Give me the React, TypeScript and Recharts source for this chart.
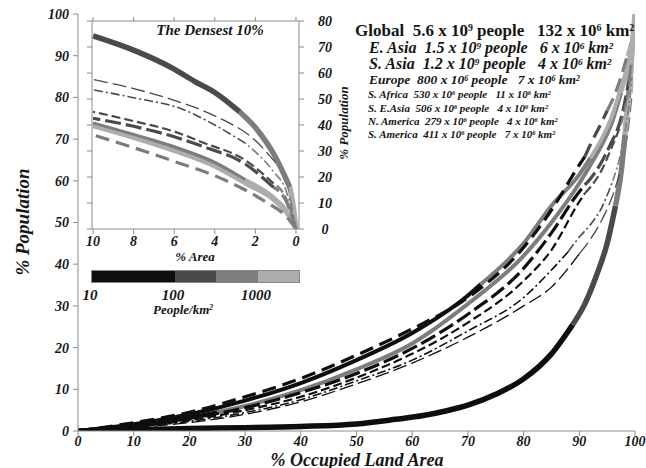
import React from "react";
import { LineChart, Line, XAxis, YAxis } from "recharts";

const FONT = '"Liberation Serif", "Times New Roman", Times, serif';
const INK = "#151515";
const AXIS = "#8c8c8c";

// people/km2 classes used for the gray scale
const densityEdges = [10, 100, 316, 1000, 3162];
const densityTickLabels = [10, 100, 1000];
const densityGrays = ["#0e0e0e", "#4a4a4a", "#7d7d7d", "#adadad"];

const mainTicks = [0, 10, 20, 30, 40, 50, 60, 70, 80, 90, 100];
const insetXTicks = [0, 2, 4, 6, 8, 10];
const insetYTicks = [0, 10, 20, 30, 40, 50, 60, 70, 80];

const regionNames = ["Global", "E. Asia", "S. Asia", "Europe", "S. Africa", "S. E.Asia", "N. America", "S. America"];
const regionPeople: [string, number][] = [["5.6", 9], ["1.5", 9], ["1.2", 9], ["800", 6], ["530", 6], ["506", 6], ["279", 6], ["411", 6]];
const regionArea = [132, 6, 4, 7, 11, 4, 4, 7];

// [% area, % population, density class]
type Pt = [number, number, number];

const mainGlobal: Pt[] = [
  [0, 0, 0], [10, 0.3, 0], [20, 0.6, 0], [30, 0.8, 0], [40, 1.1, 0], [50, 1.7, 0], [57, 2.8, 0], [62, 3.7, 0],
  [66, 4.8, 0], [70, 6.2, 0], [75, 8.8, 0], [80, 12.5, 0], [85, 18.5, 0], [88.8, 25.5, 1], [91, 30.5, 1],
  [93, 37, 1], [95, 45, 1], [96.5, 54, 2], [97.5, 62, 2], [98.2, 71, 3], [98.8, 80, 3], [99.4, 90, 3], [100, 100, 3],
];
const mainNAmerica: Pt[] = [
  [0, 0, 0], [10, 0.8, 0], [20, 2, 0], [30, 4, 0], [40, 7, 0], [50, 11.3, 0], [60, 16.3, 0], [70, 22.5, 0],
  [80, 30, 0], [85, 34.5, 0], [90, 42.5, 1], [92, 46, 1], [94, 50.5, 1], [96, 56.5, 1], [97.5, 63, 2],
  [99, 74.5, 2], [99.5, 81, 3], [100, 100, 3],
];
const mainSAmerica: Pt[] = [
  [0, 0, 0], [10, 0.9, 0], [20, 2.3, 0], [30, 4.4, 0], [40, 7.5, 0], [50, 12, 0], [60, 17, 0], [70, 24, 0],
  [80, 32, 0], [85, 38.6, 0], [88, 43, 1], [90, 46.5, 1], [92, 49.5, 1], [94, 53.5, 1], [96, 60, 2],
  [97.5, 67, 2], [98.9, 78, 2], [99.5, 85, 3], [100, 100, 3],
];
const mainSAfrica: Pt[] = [
  [0, 0, 0], [10, 1, 0], [20, 2.6, 0], [30, 5, 0], [40, 8.2, 0], [50, 12.8, 0], [60, 18.5, 0], [70, 26, 0],
  [80, 36, 0], [85, 43.4, 0], [90, 55, 0], [91, 57, 1], [92, 58.5, 1], [94, 62.5, 1], [95.5, 67, 1],
  [97.5, 73.5, 2], [98.9, 82.5, 2], [99.5, 88, 3], [100, 100, 3],
];
const mainSEAsia: Pt[] = [
  [0, 0, 0], [10, 1.2, 0], [20, 3, 0], [30, 5.6, 0], [40, 9.2, 0], [50, 13.8, 0], [60, 19.8, 0], [70, 28, 0],
  [80, 39, 0], [85, 47.5, 0], [90, 57.4, 0], [91, 59, 1], [92, 60.5, 1], [94, 64.5, 1], [95.5, 68.5, 1],
  [97.5, 75, 1], [98.9, 84, 2], [99.5, 89, 3], [100, 100, 3],
];
const mainSAsia: Pt[] = [
  [0, 0, 0], [10, 1.3, 0], [20, 3.2, 0], [25, 4.5, 2], [30, 6, 2], [40, 9.8, 2], [50, 14.8, 2], [60, 21, 2],
  [70, 30.5, 2], [80, 42, 2], [85, 50, 2], [90, 59.4, 2], [92, 63.8, 2], [94, 68.5, 2], [96, 74.5, 2],
  [97.5, 81.2, 3], [99, 88.5, 3], [99.5, 92.5, 3], [100, 100, 3],
];
const mainEAsia: Pt[] = [
  [0, 0, 0], [10, 1.6, 0], [20, 4, 0], [30, 7.3, 0], [40, 11.5, 0], [50, 17, 0], [60, 23.5, 0], [70, 32.5, 0],
  [72.3, 35.2, 2], [80, 45, 2], [85, 54, 2], [90, 61.5, 2], [92, 65.5, 3], [94, 70, 3], [96, 76, 3],
  [97.5, 82.5, 3], [99, 89.5, 3], [99.5, 93.5, 3], [100, 100, 3],
];
const mainEurope: Pt[] = [
  [0, 0, 0], [10, 2, 0], [20, 4.5, 0], [30, 8.2, 0], [40, 12.6, 0], [50, 18.2, 0], [60, 24.5, 0], [70, 32, 0],
  [80, 44, 0], [85, 53, 0], [90, 63.8, 0], [91, 65.8, 1], [92, 68.7, 1], [94, 74, 1], [95, 76.8, 2],
  [96, 79.5, 2], [97.5, 85, 2], [98.6, 90, 3], [99.5, 95, 3], [100, 100, 3],
];

// inset: densest 10% of area
const insetGlobal: Pt[] = [
  [0, 0, 3], [0.15, 9.5, 3], [0.3, 16, 2], [0.5, 19.5, 2], [1, 27.5, 2], [2, 39, 2], [2.78, 45.1, 1],
  [4, 52.5, 1], [5, 56.8, 1], [6, 61.5, 1], [8, 68.8, 1], [10, 74.3, 1],
];
const insetNAmerica: Pt[] = [[0, 0, 2], [0.5, 19, 2], [1, 25.5, 1], [2, 34, 1], [4, 43.5, 1], [6, 49.5, 1], [8, 54, 1], [10, 57.5, 1]];
const insetSAmerica: Pt[] = [[0, 0, 2], [0.5, 15, 2], [1.1, 22, 2], [2.5, 33, 1], [4, 40, 1], [5.5, 45.8, 1], [8, 50.5, 1], [10, 53.5, 1]];
const insetSAfrica: Pt[] = [[0, 0, 2], [0.5, 12, 2], [1.1, 17.5, 1], [2.5, 26.5, 1], [4.5, 33, 1], [6, 37.5, 1], [8, 41.5, 1], [10, 45.1, 1]];
const insetSEAsia: Pt[] = [[0, 0, 2], [0.5, 11, 2], [1.1, 16, 1], [2.5, 25, 1], [4.5, 31.5, 1], [6, 35.5, 1], [8, 39.5, 1], [10, 42.6, 1]];
const insetSAsia: Pt[] = [[0, 0, 3], [0.5, 7.5, 3], [1, 11.5, 3], [2.5, 18.8, 2], [4, 25.5, 2], [6, 31.5, 2], [8, 36.2, 2], [10, 40.6, 2]];
const insetEAsia: Pt[] = [[0, 0, 3], [0.5, 6.5, 3], [1, 10.5, 3], [2.5, 17.5, 3], [4, 24, 3], [6, 30, 3], [8, 35, 3], [10, 39.5, 3]];
const insetEurope: Pt[] = [[0, 0, 2], [0.5, 5, 2], [1.4, 10, 2], [2.5, 15, 2], [4, 20.5, 2], [6, 26, 2], [8, 31.3, 2], [10, 36.2, 2]];

const mainCurves: Record<string, Pt[]> = {
  Global: mainGlobal, "N. America": mainNAmerica, "S. America": mainSAmerica, "S. Africa": mainSAfrica,
  "S. E.Asia": mainSEAsia, "S. Asia": mainSAsia, "E. Asia": mainEAsia, Europe: mainEurope,
};
const insetCurves: Record<string, Pt[]> = {
  Global: insetGlobal, "N. America": insetNAmerica, "S. America": insetSAmerica, "S. Africa": insetSAfrica,
  "S. E.Asia": insetSEAsia, "S. Asia": insetSAsia, "E. Asia": insetEAsia, Europe: insetEurope,
};

const curveStyle: Record<string, { width: number; dash?: string }> = {
  Global: { width: 5.5 },
  "S. Asia": { width: 4 },
  "E. Asia": { width: 4 },
  Europe: { width: 3.2, dash: "14 7" },
  "S. E.Asia": { width: 3.2, dash: "16 5" },
  "S. Africa": { width: 2.2, dash: "9 4" },
  "S. America": { width: 1.6, dash: "9 3 2 3" },
  "N. America": { width: 1.3, dash: "14 5" },
};
const drawOrder = ["Global", "S. Asia", "E. Asia", "Europe", "S. E.Asia", "S. Africa", "S. America", "N. America"];

const legendLayout = [
  { left: 355, cy: 30, size: 17, italic: false },
  { left: 369, cy: 47.5, size: 16, italic: true },
  { left: 369, cy: 63.5, size: 16, italic: true },
  { left: 369, cy: 80, size: 13.5, italic: true },
  { left: 368, cy: 94, size: 11, italic: true },
  { left: 368, cy: 107.5, size: 11, italic: true },
  { left: 368, cy: 121, size: 11, italic: true },
  { left: 368, cy: 134, size: 11, italic: true },
];

const tickStyle = { fill: INK, fontSize: 14, fontWeight: 700, fontStyle: "italic", fontFamily: FONT };
const blank = () => "";

// split a curve into runs of one density class
function toSegments(pts: Pt[]) {
  const segs: { band: number; data: { x: number; y: number }[] }[] = [];
  let cur: { band: number; data: { x: number; y: number }[] } | null = null;
  for (const [x, y, b] of pts) {
    if (!cur || cur.band !== b) {
      if (cur) cur.data.push({ x, y });
      cur = { band: b, data: [] };
      segs.push(cur);
    }
    cur.data.push({ x, y });
  }
  return segs;
}

function curveLines(curves: Record<string, Pt[]>, prefix: string) {
  return drawOrder.flatMap((name) =>
    toSegments(curves[name]).map((seg, i) => (
      <Line
        key={`${prefix}-${name}-${i}`}
        xAxisId="b"
        yAxisId="l"
        data={seg.data}
        dataKey="y"
        type="monotone"
        stroke={densityGrays[seg.band]}
        strokeWidth={curveStyle[name].width}
        strokeDasharray={curveStyle[name].dash}
        strokeLinecap="butt"
        dot={false}
        activeDot={false}
        isAnimationActive={false}
      />
    ))
  );
}

const InsetRightTick = (props: any) => {
  const { x, y, payload } = props;
  return (
    <text x={x + 19} y={y} dy={5} textAnchor="middle" style={tickStyle as any} fill={INK}>
      {payload.value}
    </text>
  );
};

const sup: React.CSSProperties = { fontSize: "0.58em", verticalAlign: "0.42em", lineHeight: 0 };
const label: React.CSSProperties = { position: "absolute", fontWeight: 700, fontStyle: "italic", color: INK, whiteSpace: "nowrap", lineHeight: 1 };

export default function App() {
  const decadePx = 83;
  const barLeft = 92;
  const xOf = (v: number) => barLeft + Math.log10(v / densityEdges[0]) * decadePx;

  return (
    <div style={{ position: "absolute", left: 0, top: 0, width: 646, height: 468, background: "#fff", fontFamily: FONT, overflow: "hidden" }}>
      <LineChart width={646} height={468} margin={{ top: 14, right: 11, bottom: 0, left: 0 }}>
        <XAxis xAxisId="b" type="number" dataKey="x" domain={[0, 100]} ticks={mainTicks} interval={0} height={37}
          tickSize={5} tickMargin={0} stroke={AXIS} tick={tickStyle} allowDataOverflow />
        <XAxis xAxisId="t" orientation="top" type="number" dataKey="x" domain={[0, 100]} ticks={mainTicks} interval={0}
          height={0} tickSize={4} tickFormatter={blank} stroke={AXIS} allowDataOverflow />
        <YAxis yAxisId="l" type="number" domain={[0, 100]} ticks={mainTicks} interval={0} width={78}
          tickSize={5} tickMargin={4} stroke={AXIS} tick={tickStyle} allowDataOverflow />
        <YAxis yAxisId="r" orientation="right" type="number" domain={[0, 100]} ticks={mainTicks} interval={0} width={0}
          mirror tickSize={5} tickFormatter={blank} stroke={AXIS} allowDataOverflow />
        {curveLines(mainCurves, "m")}
      </LineChart>

      <div style={{ position: "absolute", left: 86, top: 15 }}>
        <LineChart width={253} height={236} margin={{ top: 0, right: 0, bottom: 0, left: 0 }}>
          <XAxis xAxisId="b" type="number" dataKey="x" domain={[-0.15, 10.05]} reversed ticks={insetXTicks} interval={0}
            height={22} tickSize={5} tickMargin={2} stroke={AXIS} tick={tickStyle} allowDataOverflow />
          <XAxis xAxisId="t" orientation="top" type="number" dataKey="x" domain={[-0.15, 10.05]} reversed ticks={insetXTicks}
            interval={0} height={6} tickSize={4} tickFormatter={blank} stroke={AXIS} allowDataOverflow />
          <YAxis yAxisId="l" type="number" domain={[0, 80]} ticks={insetYTicks} interval={0} width={6}
            tickSize={5} tickFormatter={blank} stroke={AXIS} allowDataOverflow />
          <YAxis yAxisId="r" orientation="right" type="number" domain={[0, 80]} ticks={insetYTicks} interval={0} width={40}
            tickSize={5} tick={<InsetRightTick />} stroke={AXIS} allowDataOverflow />
          {curveLines(insetCurves, "i")}
        </LineChart>
      </div>

      <div style={{ ...label, left: 210, top: 30, fontSize: 15, transform: "translate(-50%,-50%)" }}>The Densest 10%</div>
      <div style={{ ...label, left: 343, top: 123, fontSize: 13, transform: "translate(-50%,-50%) rotate(-90deg)" }}>% Population</div>
      <div style={{ ...label, left: 195, top: 256, fontSize: 13, transform: "translate(-50%,-50%)" }}>% Area</div>

      {densityGrays.map((g, i) => (
        <div key={g} style={{ position: "absolute", left: xOf(densityEdges[i]), top: 271,
          width: xOf(densityEdges[i + 1]) - xOf(densityEdges[i]), height: 11, background: g }} />
      ))}
      <div style={{ position: "absolute", left: barLeft - 1, top: 270, width: xOf(densityEdges[4]) - barLeft, height: 11,
        border: "1px solid #888" }} />
      {densityTickLabels.map((v) => (
        <div key={v} style={{ ...label, left: xOf(v) - 2, top: 295, fontSize: 15, transform: "translate(-50%,-50%)" }}>{v}</div>
      ))}
      <div style={{ ...label, left: 183, top: 309, fontSize: 13, transform: "translate(-50%,-50%)" }}>
        People/km<sup style={sup}>2</sup>
      </div>

      {regionNames.map((name, i) => {
        const l = legendLayout[i];
        const [mant, exp] = regionPeople[i];
        return (
          <div key={name} style={{ ...label, left: l.left, top: l.cy, fontSize: l.size, whiteSpace: "pre",
            fontStyle: l.italic ? "italic" : "normal", transform: "translateY(-50%)" }}>
            {name}{"  "}{mant} x 10<sup style={sup}>{exp}</sup> people{"   "}{regionArea[i]} x 10<sup style={sup}>6</sup> km<sup style={sup}>2</sup>
          </div>
        );
      })}

      <div style={{ ...label, left: 22, top: 222, fontSize: 19, transform: "translate(-50%,-50%) rotate(-90deg)" }}>% Population</div>
      <div style={{ ...label, left: 357, top: 459.5, fontSize: 18, lineHeight: 0.9, transform: "translate(-50%,-50%)" }}>% Occupied Land Area</div>
    </div>
  );
}
